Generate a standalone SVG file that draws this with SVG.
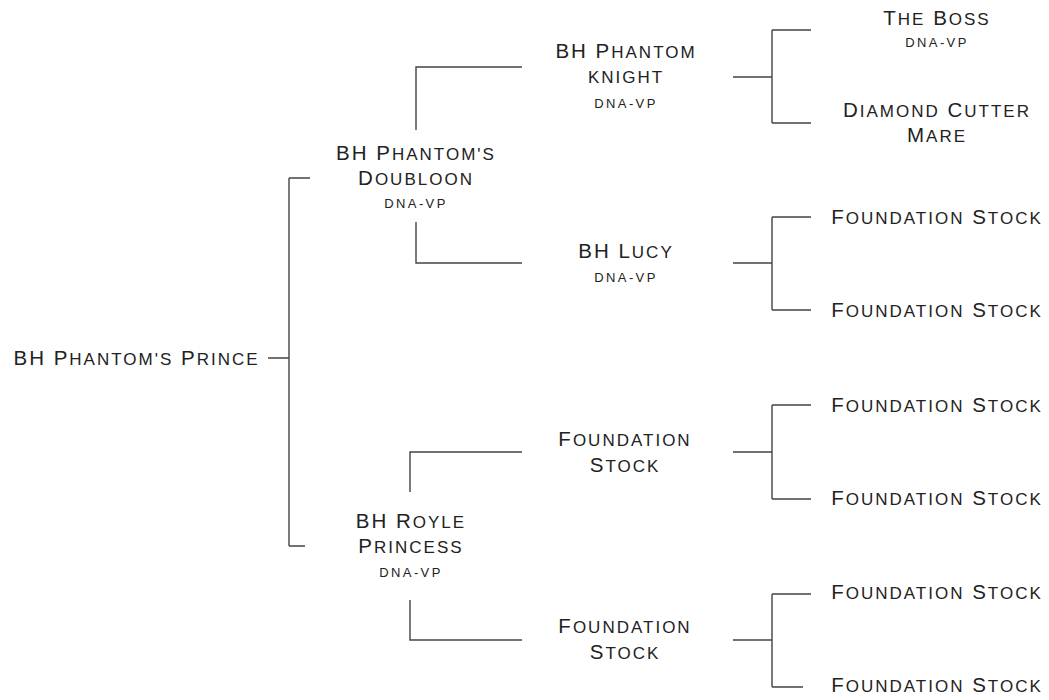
<svg xmlns="http://www.w3.org/2000/svg" width="1049" height="700" viewBox="0 0 1049 700">
<style>
  text { font-family: "Liberation Sans", Arial, sans-serif; fill: #222; text-anchor: middle; font-size: 20.5px; letter-spacing: 2px; }
  .sc { font-size: 17px; }
  .dna { font-size: 13px; letter-spacing: 2.4px; }
  .lines path { fill: none; stroke: #444; stroke-width: 1.4; }
</style>
<rect width="1049" height="700" fill="#fff"/>
<g class="lines" id="connectors">
  <path d="M268 358 H289 M289 178 V546 M289 178 H310 M289 546 H305"/>
  <path d="M416 130 V67 H522 M416 222 V263 H522"/>
  <path d="M410 492 V452 H522 M410 600 V640 H522"/>
  <path d="M733 77 H772 M772 30 V123 M772 30 H811 M772 123 H811"/>
  <path d="M733 263 H772 M772 217 V310 M772 217 H811 M772 310 H811"/>
  <path d="M733 452 H772 M772 405 V499 M772 405 H811 M772 499 H811"/>
  <path d="M733 640 H772 M772 594 V687 M772 594 H811 M772 687 H803"/>
</g>
<g id="root"><text x="136.5" y="365">BH P<tspan class="sc">HANTOM'S</tspan> P<tspan class="sc">RINCE</tspan></text></g>
<g id="doubloon">
  <text x="416" y="160">BH P<tspan class="sc">HANTOM'S</tspan></text>
  <text x="416" y="185">D<tspan class="sc">OUBLOON</tspan></text>
  <text x="416" y="208" class="dna">DNA-VP</text>
</g>
<g id="royle">
  <text x="411" y="528">BH R<tspan class="sc">OYLE</tspan></text>
  <text x="411" y="553">P<tspan class="sc">RINCESS</tspan></text>
  <text x="411" y="577" class="dna">DNA-VP</text>
</g>
<g id="knight">
  <text x="626" y="58">BH P<tspan class="sc">HANTOM</tspan></text>
  <text x="626" y="83" class="sc">KNIGHT</text>
  <text x="626" y="108" class="dna">DNA-VP</text>
</g>
<g id="lucy">
  <text x="626" y="258">BH L<tspan class="sc">UCY</tspan></text>
  <text x="626" y="282" class="dna">DNA-VP</text>
</g>
<g id="fs-dam1">
  <text x="625" y="446">F<tspan class="sc">OUNDATION</tspan></text>
  <text x="625" y="472">S<tspan class="sc">TOCK</tspan></text>
</g>
<g id="fs-dam2">
  <text x="625" y="633">F<tspan class="sc">OUNDATION</tspan></text>
  <text x="625" y="659">S<tspan class="sc">TOCK</tspan></text>
</g>
<g id="boss">
  <text x="937" y="25">T<tspan class="sc">HE</tspan> B<tspan class="sc">OSS</tspan></text>
  <text x="937" y="47" class="dna">DNA-VP</text>
</g>
<g id="diamond">
  <text x="937" y="117">D<tspan class="sc">IAMOND</tspan> C<tspan class="sc">UTTER</tspan></text>
  <text x="937" y="142">M<tspan class="sc">ARE</tspan></text>
</g>
<g id="fs1"><text x="937" y="224">F<tspan class="sc">OUNDATION</tspan> S<tspan class="sc">TOCK</tspan></text></g>
<g id="fs2"><text x="937" y="317">F<tspan class="sc">OUNDATION</tspan> S<tspan class="sc">TOCK</tspan></text></g>
<g id="fs3"><text x="937" y="412">F<tspan class="sc">OUNDATION</tspan> S<tspan class="sc">TOCK</tspan></text></g>
<g id="fs4"><text x="937" y="505">F<tspan class="sc">OUNDATION</tspan> S<tspan class="sc">TOCK</tspan></text></g>
<g id="fs5"><text x="937" y="599">F<tspan class="sc">OUNDATION</tspan> S<tspan class="sc">TOCK</tspan></text></g>
<g id="fs6"><text x="937" y="692">F<tspan class="sc">OUNDATION</tspan> S<tspan class="sc">TOCK</tspan></text></g>
</svg>
